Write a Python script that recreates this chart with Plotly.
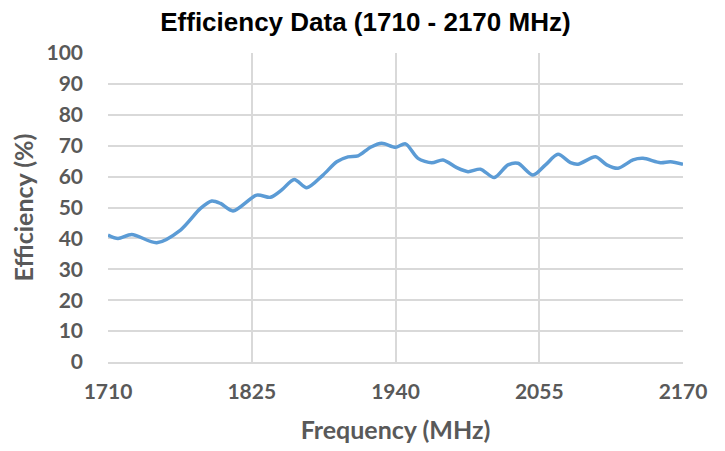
import plotly.graph_objects as go

freq_mhz = [1710, 1718, 1729, 1749, 1768, 1784, 1793, 1800, 1810, 1829, 1840, 1849, 1859,
            1869, 1882, 1893, 1902, 1910, 1920, 1929, 1940, 1948, 1958, 1969, 1978, 1989,
            1998, 2008, 2019, 2030, 2038, 2050, 2060, 2070, 2080, 2086, 2100, 2109, 2118,
            2130, 2138, 2152, 2160, 2170]
efficiency_pct = [41.1, 40.0, 41.3, 38.6, 42.7, 49.7, 52.1, 51.3, 48.9, 54.0, 53.3, 55.7, 59.1,
                  56.4, 60.5, 64.8, 66.4, 66.7, 69.5, 70.8, 69.5, 70.6, 65.9, 64.5, 65.4, 62.9,
                  61.6, 62.4, 59.7, 63.8, 64.3, 60.5, 63.8, 67.2, 64.5, 64.0, 66.4, 63.8, 62.7,
                  65.4, 65.9, 64.5, 64.8, 64.0]
x_ticks = [1710, 1825, 1940, 2055, 2170]
y_ticks = [0, 10, 20, 30, 40, 50, 60, 70, 80, 90, 100]

fig = go.Figure()
fig.add_trace(go.Scatter(
    x=freq_mhz, y=efficiency_pct, mode="lines",
    line=dict(color="#5B9BD5", width=3.5, shape="spline", smoothing=0.8),
    showlegend=False, hoverinfo="x+y"))

tick_font = dict(family="Lato", size=21, color="#595959")
title_font = dict(family="Lato", size=25, color="#595959")

fig.update_layout(
    width=725, height=451,
    margin=dict(l=100, r=50, t=45, b=97),
    paper_bgcolor="white", plot_bgcolor="white",
    title=dict(text="<b>Efficiency Data (1710 - 2170 MHz)</b>",
               font=dict(family="Liberation Sans", size=26, color="black"),
               x=0.493, xanchor="center", y=0.97, yanchor="middle"),
    xaxis=dict(range=[1710, 2170], tickvals=x_ticks, ticktext=[f"<b>{v}</b>" for v in x_ticks],
               showgrid=True, gridcolor="#D9D9D9", gridwidth=1.5, zeroline=False,
               showline=True, linecolor="#D9D9D9", linewidth=1.5, automargin=False,
               tickfont=tick_font, ticks="", ticklabelstandoff=10,
               title=dict(text="<b>Frequency (MHz)</b>", font=title_font, standoff=20)),
    yaxis=dict(range=[0, 100], tickvals=y_ticks, ticktext=[f"<b>{v}</b>" for v in y_ticks],
               showgrid=True, gridcolor="#D9D9D9", gridwidth=1.5, zeroline=False,
               showline=False, tickfont=tick_font, ticks="", ticklabelstandoff=24,
               automargin=False,
               title=dict(text="<b>Efficiency (%)</b>", font=title_font, standoff=10)),
)

fig.write_html("out.html")
